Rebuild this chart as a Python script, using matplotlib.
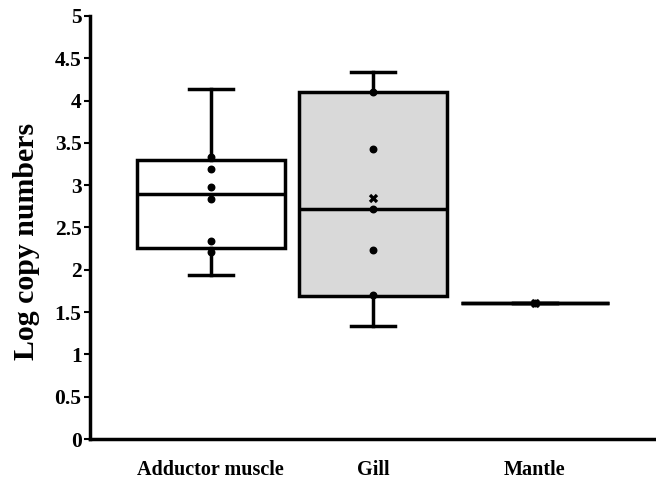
import matplotlib
matplotlib.use("Agg")
import matplotlib.pyplot as plt
import numpy as np

plt.rcParams['font.family'] = ['Liberation Serif', 'DejaVu Serif']
plt.rcParams['font.weight'] = 'bold'

categories = ['Adductor muscle', 'Gill', 'Mantle']
box_colors = ['white', '#d9d9d9', 'white']

# box statistics
q1 = [2.26, 1.69, 1.61]
median = [2.90, 2.72, 1.61]
q3 = [3.30, 4.10, 1.61]
whislo = [1.94, 1.34, 1.61]
whishi = [4.14, 4.34, 1.61]
means = [None, 2.85, 1.61]

# individual samples
points = [
    [3.33, 3.19, 2.98, 2.84, 2.34, 2.21],
    [4.10, 3.43, 2.72, 2.23, 1.70],
    [1.61],
]

fig, ax = plt.subplots(figsize=(6.56, 4.83), dpi=100)
fig.subplots_adjust(left=0.137, right=0.998, bottom=0.091, top=0.967)

stats = []
for i, name in enumerate(categories):
    stats.append({'label': name, 'q1': q1[i], 'med': median[i], 'q3': q3[i],
                  'whislo': whislo[i], 'whishi': whishi[i], 'fliers': []})

pos = np.arange(1, len(categories) + 1)
bp = ax.bxp(stats, positions=pos, widths=0.91, patch_artist=True,
            showfliers=False, capwidths=0.27,
            boxprops=dict(linewidth=2.5, edgecolor='black'),
            medianprops=dict(color='black', linewidth=2.5),
            whiskerprops=dict(color='black', linewidth=2.5),
            capprops=dict(color='black', linewidth=2.5))
for patch, c in zip(bp['boxes'], box_colors):
    patch.set_facecolor(c)

for p, vals in zip(pos, points):
    ax.scatter([p] * len(vals), vals, s=22, color='black', zorder=5)

for p, m in zip(pos, means):
    if m is not None:
        ax.scatter([p], [m], marker='X', s=45, color='black', zorder=6,
                   linewidths=0)

ax.set_xlim(0.253, 3.74)
ax.set_ylim(0, 5)
ax.set_yticks(np.arange(0, 5.01, 0.5))
ax.set_yticklabels(['0', '0.5', '1', '1.5', '2', '2.5', '3', '3.5', '4', '4.5', '5'])
ax.set_xticks(pos)
ax.set_xticklabels(categories, fontsize=14.5, fontweight='bold')
ax.tick_params(axis='x', length=0, pad=15)
ax.tick_params(axis='y', length=4, width=1.5, labelsize=15.5, pad=2)
for t in ax.get_yticklabels():
    t.set_fontweight('bold')

ax.spines['top'].set_visible(False)
ax.spines['right'].set_visible(False)
ax.spines['left'].set_linewidth(2.5)
ax.spines['bottom'].set_linewidth(2.5)

ax.set_ylabel('Log copy numbers', fontsize=21.5, fontweight='bold')
ax.yaxis.set_label_coords(-0.089, 0.466)

plt.savefig('out.png', dpi=100)
